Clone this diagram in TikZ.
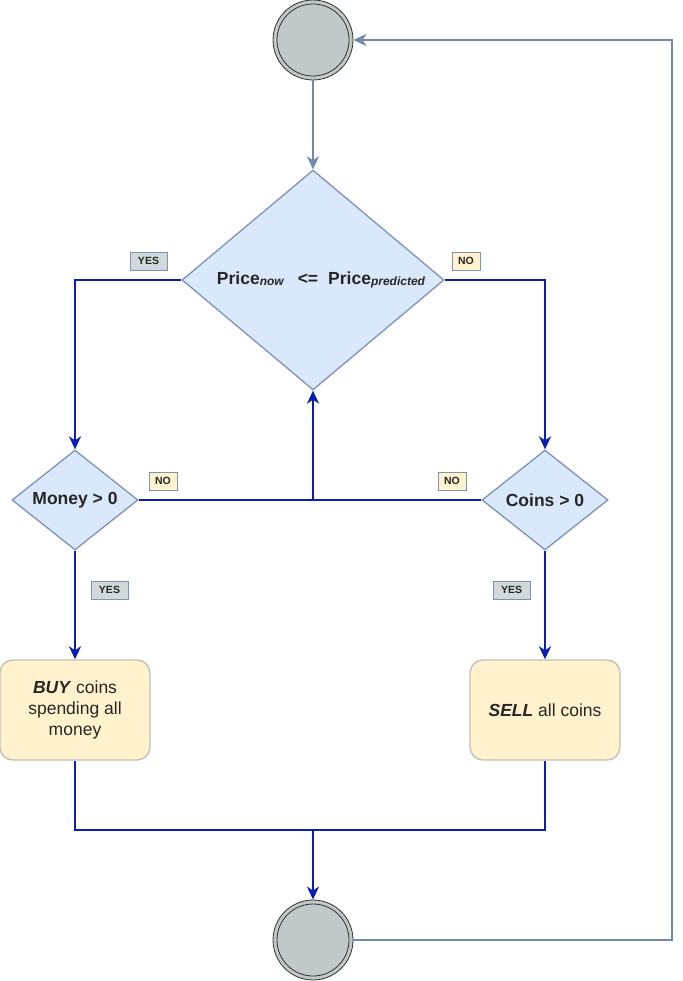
\documentclass[tikz,border=0pt]{standalone}
\usepackage{fontspec}
\setmainfont{Liberation Sans}
\usetikzlibrary{shapes.geometric,arrows.meta}
\definecolor{flow}{HTML}{0A1FB0}
\definecolor{loopc}{HTML}{7389AA}
\definecolor{dfill}{HTML}{DAE8FC}
\definecolor{dline}{HTML}{7C93B8}
\definecolor{bfill}{HTML}{FFF2CC}
\definecolor{bline}{HTML}{C2C2B8}
\definecolor{cfill}{HTML}{C0C8C8}
\definecolor{yfill}{HTML}{D2D9DA}
\definecolor{txt}{HTML}{262626}
\tikzset{
  dec/.style={diamond, draw=dline, fill=dfill, line width=1.3pt, inner sep=0pt},
  act/.style={rounded corners=13pt, draw=bline, fill=bfill, line width=1.4pt,
    minimum width=150pt, minimum height=100pt, align=center, text=txt,
    font=\fontsize{17.5}{21}\selectfont},
  term/.style={circle, fill=cfill, draw=black!80, line width=0.8pt, minimum size=80pt, inner sep=0pt},
  flowline/.style={draw=flow, line width=2.6pt},
  loopline/.style={draw=loopc, line width=2.6pt},
  tip/.style={-{Stealth[length=13pt, width=12pt, inset=4pt]}},
  lab/.style={draw=dline, line width=0.7pt, font=\fontsize{10.5}{12}\selectfont\bfseries,
    inner sep=0pt, minimum height=18pt, text=txt},
  yeslab/.style={lab, fill=yfill, minimum width=37pt},
  nolab/.style={lab, fill=bfill, minimum width=28pt},
  dtxt/.style={font=\fontsize{17.5}{21}\selectfont\bfseries, text=txt}
}
\begin{document}
\begin{tikzpicture}[x=1pt,y=-1pt]
\useasboundingbox (0,0) rectangle (682,981);
% terminals
\node[term] (start) at (313,40) {};
\draw[black!80, line width=0.8pt] (start.center) circle[radius=36];
\node[term] (stop) at (313,940) {};
\draw[black!80, line width=0.8pt] (stop.center) circle[radius=36];
% decisions
\node[dec, minimum width=262pt, minimum height=220pt] (cmp) at (313,280) {};
\node[text=txt] (cmptxt) at (321,280) {\fontsize{17.5}{21}\selectfont\bfseries Price\raisebox{-1.5pt}{\fontsize{12}{14}\selectfont\itshape now}\hspace{14pt}<=\hspace{10pt}Price\raisebox{-1.5pt}{\fontsize{12}{14}\selectfont\itshape predicted}};
\node[dec, minimum width=126pt, minimum height=100pt] (money) at (75,500) {};
\node[dtxt] (moneytxt) at (75,500) {Money > 0};
\node[dec, minimum width=126pt, minimum height=100pt] (coins) at (545,500) {};
\node[dtxt] (coinstxt) at (545,500) {Coins > 0};
% actions
\node[act] (buy) at (75,710) {\textbf{\itshape BUY} coins\\spending all\\money};
\node[act] (sell) at (545,710) {\textbf{\itshape SELL} all coins};
% bend points
\coordinate (yl) at (75,280);
\coordinate (nr) at (545,280);
\coordinate (mid) at (313,500);
\coordinate (bl) at (75,830);
\coordinate (br) at (545,830);
\coordinate (bm) at (313,830);
\coordinate (lr) at (672,940);
\coordinate (ur) at (672,40);
% connectors
\draw[loopline, tip] (start.south) -- (cmp.north);
\draw[flowline, tip] (cmp.west) -- (yl) -- (money.north);
\draw[flowline, tip] (cmp.east) -- (nr) -- (coins.north);
\draw[flowline, tip] (money.east) -- (mid) -- (cmp.south);
\draw[flowline] (coins.west) -- (mid);
\draw[flowline, tip] (money.south) -- (buy.north);
\draw[flowline, tip] (coins.south) -- (sell.north);
\draw[flowline, tip] (buy.south) -- (bl) -- (bm) -- (stop.north);
\draw[flowline] (sell.south) -- (br) -- (bm);
\draw[loopline, tip] (stop.east) -- (lr) -- (ur) -- (start.east);
% labels
\node[yeslab] (l1) at (148.5,261) {YES};
\node[nolab] (l2) at (466,261) {NO};
\node[nolab] (l3) at (163,481) {NO};
\node[nolab] (l4) at (452,481) {NO};
\node[yeslab] (l5) at (109.5,590) {YES};
\node[yeslab] (l6) at (511.5,590) {YES};
\end{tikzpicture}
\end{document}
